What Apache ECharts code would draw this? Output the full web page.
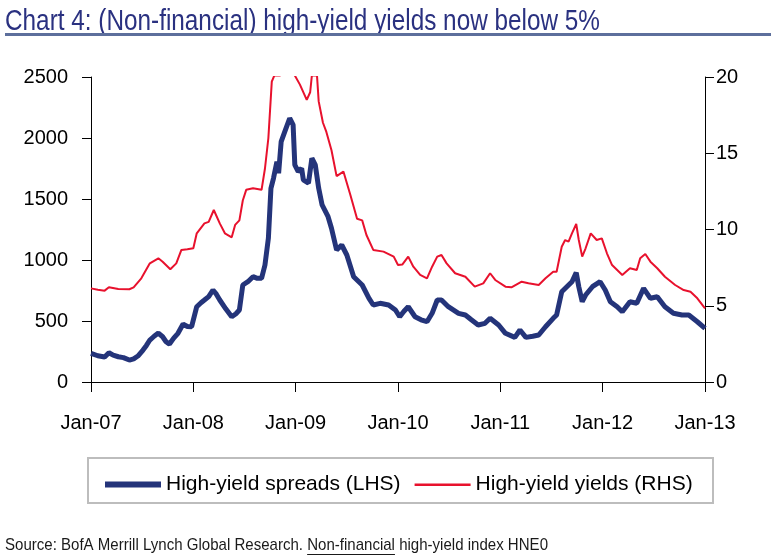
<!DOCTYPE html>
<html>
<head>
<meta charset="utf-8">
<script src="https://cdn.jsdelivr.net/npm/echarts@6/dist/echarts.min.js"></script>
<style>
html,body{margin:0;padding:0;background:#fff;}
#chart{width:771px;height:559px;}
</style>
</head>
<body>
<div id="chart"></div>
<script>
// ---- Data (months since Jan-2007) ----
const xTickLabels = ['Jan-07','Jan-08','Jan-09','Jan-10','Jan-11','Jan-12','Jan-13'];
const leftTicks = [0, 500, 1000, 1500, 2000, 2500];
const rightTicks = [0, 5, 10, 15, 20];

const spreadMonths = [0,0.8,1.6,2.1,2.6,3.2,3.8,4.5,5.0,5.5,6.1,6.5,6.9,7.4,7.9,8.4,8.8,9.2,9.7,10.2,10.8,11.3,11.8,12.4,12.9,13.3,13.8,14.3,14.7,15.1,15.8,16.5,17.0,17.4,17.8,18.4,19.0,19.5,20.0,20.4,20.8,21.1,21.4,21.8,22.0,22.3,22.8,23.3,23.7,23.9,24.3,24.7,24.9,25.5,25.9,26.3,26.7,27.1,27.8,28.2,28.8,29.4,30.0,30.8,31.8,32.6,33.1,33.9,34.9,35.7,36.2,36.7,37.2,38.0,38.7,39.4,40.0,40.6,41.1,41.9,43.1,43.9,44.6,45.4,46.2,46.8,47.8,48.6,49.7,50.3,51.0,51.8,52.5,53.3,54.2,54.6,55.2,55.8,56.4,56.9,57.2,57.6,58.0,58.8,59.7,60.3,60.9,61.7,62.3,63.2,64.0,64.8,65.6,66.4,67.3,68.3,69.3,70.1,71.1,72.0];
const spreadValues = [235,215,205,240,220,207,200,180,190,213,262,300,344,375,401,371,330,311,360,399,475,455,453,617,650,672,700,754,720,672,600,535,560,590,795,822,863,850,850,959,1178,1588,1670,1806,1711,1970,2066,2162,2107,1779,1724,1752,1656,1629,1834,1779,1588,1451,1355,1260,1082,1123,1041,863,795,686,631,645,631,590,535,580,617,535,510,494,563,672,672,617,563,549,510,467,481,522,467,399,366,426,366,375,385,453,522,549,740,781,822,896,781,658,713,781,822,754,658,617,576,658,645,768,686,699,617,563,549,549,494,440];

const yieldMonths = [0,0.8,1.6,2.1,3.2,4.5,5.0,5.9,6.9,7.9,8.4,9.3,10.0,10.6,11.3,12.0,12.4,13.3,13.8,14.4,15.1,15.7,16.5,16.9,17.4,17.8,18.2,19.0,20.0,20.4,20.8,21.2,21.5,22.2,22.6,23.3,23.9,24.5,25.3,25.7,25.9,26.5,26.7,27.2,27.6,28.2,28.8,29.6,30.4,31.2,31.8,32.3,33.1,34.3,35.5,36.0,36.5,37.2,37.8,38.6,39.4,40.0,40.6,41.1,41.7,42.7,43.9,45.0,46.0,46.8,47.4,48.6,49.3,50.5,51.3,52.5,53.3,54.2,54.6,55.2,55.6,56.0,56.4,56.9,57.2,57.6,58.0,58.6,59.3,59.9,60.5,61.1,62.3,63.2,64.0,64.4,65.0,65.6,66.4,67.3,68.5,69.5,70.3,71.1,72.0];
const yieldValues = [6.14,6.05,5.99,6.21,6.1,6.08,6.21,6.8,7.78,8.11,7.89,7.39,7.78,8.66,8.7,8.77,9.75,10.4,10.5,11.28,10.4,9.75,9.49,10.3,10.6,11.9,12.6,12.7,12.6,14.0,16.0,19.7,20.1,20.1,23.0,22.0,20.1,19.5,18.5,19.0,20.1,20.1,18.4,17.0,16.4,15.2,13.5,13.8,12.3,10.7,10.6,9.64,8.66,8.55,8.22,7.67,7.7,8.22,7.56,7.02,6.8,7.56,8.22,8.33,7.78,7.13,6.9,6.25,6.47,7.13,6.69,6.25,6.21,6.58,6.47,6.36,6.8,7.23,7.23,8.87,9.31,9.2,9.75,10.36,9.31,8.22,8.77,9.75,9.31,9.42,8.44,7.67,7.02,7.46,7.34,8.11,8.39,7.89,7.46,6.9,6.36,6.03,5.92,5.49,4.83];

const spreadName = 'High-yield spreads (LHS)';
const yieldName = 'High-yield yields (RHS)';
const titleText = 'Chart 4: (Non-financial) high-yield yields now below 5%';
const srcPre = 'Source: BofA Merrill Lynch Global Research. ';
const srcUnder = 'Non-financial';
const srcPost = ' high-yield index HNE0';

const FONT = "'Liberation Sans', Arial, sans-serif";
const BLUE = '#24347A';
const RED = '#E8112D';

function measure(txt, size){
  const c = document.createElement('canvas').getContext('2d');
  c.font = size + 'px ' + FONT;
  return c.measureText(txt).width;
}
// condensed look: horizontal scale so text fits the reference widths
const titleSize = 29;
const titleSX = 595 / measure(titleText, titleSize);
const srcSize = 17;
const srcSX = 543 / measure(srcPre + srcUnder + srcPost, srcSize);
const underX = 5 + measure(srcPre, srcSize) * srcSX;
const underW = measure(srcUnder, srcSize) * srcSX;

const chart = echarts.init(document.getElementById('chart'), null, {renderer:'canvas'});
chart.setOption({
  animation: false,
  backgroundColor: '#fff',
  textStyle: {fontFamily: FONT},
  grid: {left: 91, right: 66, top: 77, bottom: 177, containLabel: false},
  xAxis: {
    type: 'value', min: 0, max: 72, interval: 12,
    axisLine: {show: true, lineStyle: {color: '#000', width: 1}},
    axisTick: {show: true, length: 10, lineStyle: {color: '#000'}},
    splitLine: {show: false},
    axisLabel: {color: '#000', fontSize: 20, fontFamily: FONT, margin: 31,
      formatter: v => xTickLabels[Math.round(v/12)] || ''}
  },
  yAxis: [{
    type: 'value', min: 0, max: 2500, interval: 500, position: 'left',
    axisLine: {show: true, lineStyle: {color: '#000', width: 1}},
    axisTick: {show: true, length: 9, lineStyle: {color: '#000'}},
    splitLine: {show: false},
    axisLabel: {color: '#000', fontSize: 20, fontFamily: FONT, margin: 23,
      formatter: v => String(leftTicks[Math.round(v/500)])}
  },{
    type: 'value', min: 0, max: 20, interval: 5, position: 'right',
    axisLine: {show: true, lineStyle: {color: '#000', width: 1}},
    axisTick: {show: true, length: 9, lineStyle: {color: '#000'}},
    splitLine: {show: false},
    axisLabel: {color: '#000', fontSize: 20, fontFamily: FONT, margin: 11,
      formatter: v => String(rightTicks[Math.round(v/5)])}
  }],
  legend: {
    left: 100, top: 469,
    itemWidth: 56, itemHeight: 6, itemGap: 14,
    textStyle: {fontSize: 21, color: '#000', fontFamily: FONT},
    data: [
      {name: spreadName, icon: 'rect', itemStyle: {color: BLUE}},
      {name: yieldName, icon: 'path://M0,0L0.01,0M0,2L56,2L56,4.5L0,4.5ZM0,6L0.01,6', itemStyle: {color: RED}}
    ]
  },
  graphic: [
    {type: 'text', x: 5, y: 7, scaleX: titleSX, style: {text: titleText, fontSize: titleSize, fontFamily: FONT, fill: '#2A3180', verticalAlign: 'top', align: 'left'}},
    {type: 'rect', x: 5, y: 33, shape: {width: 766, height: 3}, style: {fill: '#5D6F9C'}},
    {type: 'rect', x: 88, y: 458, shape: {width: 625, height: 45}, style: {fill: 'none', stroke: '#BDBDBD', lineWidth: 2}, z: -1},
    {type: 'text', x: 5, y: 537, scaleX: srcSX, style: {text: srcPre + srcUnder + srcPost, fontSize: srcSize, fontFamily: FONT, fill: '#1a1a1a', verticalAlign: 'top', align: 'left'}},
    {type: 'line', shape: {x1: underX, y1: 554.5, x2: underX + underW, y2: 554.5}, style: {stroke: '#1a1a1a', lineWidth: 1}}
  ],
  series: [
    {
      name: spreadName, type: 'line', yAxisIndex: 0, showSymbol: false, symbol: 'none', clip: true,
      lineStyle: {color: BLUE, width: 5}, itemStyle: {color: BLUE}, z: 3,
      data: spreadMonths.map((m, i) => [m, spreadValues[i]])
    },
    {
      name: yieldName, type: 'line', yAxisIndex: 1, showSymbol: false, symbol: 'none', clip: true,
      lineStyle: {color: RED, width: 2}, itemStyle: {color: RED}, z: 2,
      data: yieldMonths.map((m, i) => [m, yieldValues[i]])
    }
  ]
});
</script>
</body>
</html>
